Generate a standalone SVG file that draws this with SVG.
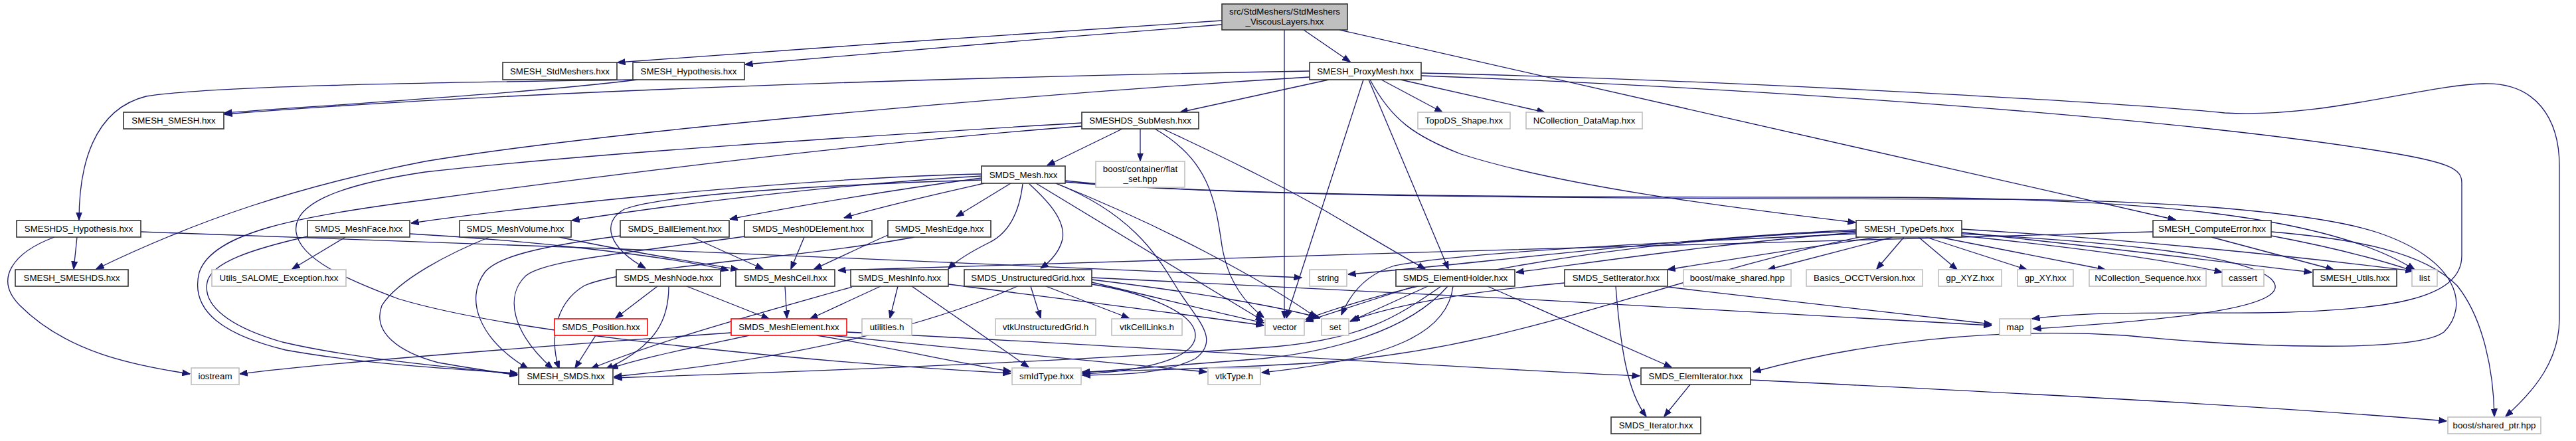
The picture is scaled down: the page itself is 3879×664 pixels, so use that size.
<svg xmlns="http://www.w3.org/2000/svg" width="3879" height="664" viewBox="0 0 3879 664">
<defs>
<style>
.e path{fill:none;stroke:#191970;stroke-width:1.3;marker-end:url(#a)}
.node rect{fill:#fff;stroke:#333;stroke-width:1.6}
.node.g rect{stroke:#bfbfbf}
.node.r rect{stroke:#ff0000}
.node.m rect{fill:#bfbfbf}
.node text{font-family:"Liberation Sans",Arial,sans-serif;font-size:13.3px;fill:#000;text-anchor:middle}
</style>
<marker id="a" markerUnits="userSpaceOnUse" markerWidth="12" markerHeight="10" viewBox="0 0 12 10" refX="11.5" refY="5" orient="auto"><path d="M0,0.5 L12,5 L0,9.5 z" fill="#191970" stroke="#191970" stroke-width="1"/></marker>
</defs>
<rect width="3879" height="664" fill="#fff"/>
<g class="e" id="edges">
<path d="M1840,31 C1600,45 1200,75 930,94"/>
<path d="M1840,37 C1600,55 1350,78 1122,97"/>
<path d="M1963,45 L2033,93"/>
<path d="M1934,45 L1934,479"/>
<path d="M2017,45 L3276,331"/>
<path d="M953,120 C700,124 330,128 220,145 C140,165 119,250 119,331"/>
<path d="M960,120 C800,140 500,158 338,170"/>
<path d="M1972,107 C1500,115 800,135 338,172"/>
<path d="M2001,120 L1777,169"/>
<path d="M2063,120 C2095,180 2130,205 2200,232 C2350,280 2600,312 2794,335"/>
<path d="M2080,120 L2172,169"/>
<path d="M2109,120 L2326,169"/>
<path d="M2061,120 L2181,405"/>
<path d="M2053,120 L1937,479"/>
<path d="M2140,110 C2600,120 3200,155 3350,170 C3500,178 3650,128 3740,126 C3820,124 3854,180 3854,250 L3854,480 C3854,540 3820,585 3773,627"/>
<path d="M2140,114 C2700,135 3300,180 3600,230 C3690,245 3707,255 3707,275 L3707,385 C3707,450 3600,468 3400,471 C3250,472 3150,468 3060,480"/>
<path d="M1972,116 C1500,145 900,200 640,243 C450,280 300,330 145,405"/>
<path d="M1690,194 L1577,249"/>
<path d="M1717,194 L1717,242"/>
<path d="M1739,194 C1820,240 1830,300 1840,370 C1850,430 1880,460 1903,478"/>
<path d="M1751,194 C1850,240 1950,290 2000,320 C2060,355 2110,385 2146,405"/>
<path d="M1629,190 C1300,215 900,265 640,301 C450,325 320,350 300,410 C285,470 340,505 430,527 C560,550 690,556 779,562"/>
<path d="M1629,185 C1300,205 900,230 640,259 C500,280 440,310 446,350 C452,390 520,420 600,450 C800,510 1300,550 1522,562"/>
<path d="M1478,262 C1200,268 800,310 619,336"/>
<path d="M1478,265 C1250,278 1000,310 861,332"/>
<path d="M1478,268 C1350,285 1200,310 1099,330"/>
<path d="M1482,276 C1420,290 1330,310 1271,328"/>
<path d="M1522,276 L1440,326"/>
<path d="M1478,271 C1250,278 1000,292 940,315 C905,335 915,372 972,404"/>
<path d="M1540,277 C1535,320 1520,350 1490,365 C1460,380 1440,392 1428,405"/>
<path d="M1550,277 C1575,300 1605,330 1600,360 C1595,380 1580,395 1567,404"/>
<path d="M1560,276 L1902,483"/>
<path d="M1590,276 C1750,340 1900,420 1982,478"/>
<path d="M1604,272 C1800,295 2300,297 2800,297 C3200,297 3500,320 3636,406"/>
<path d="M1604,274 C1900,300 2500,298 3000,300 C3350,302 3520,330 3580,350 C3700,390 3720,460 3680,500 C3640,530 3400,525 3200,505 C2950,490 2750,530 2640,560"/>
<path d="M1590,276 C1700,320 1740,380 1770,430 C1800,480 1840,510 1800,540 C1750,565 1680,564 1630,565"/>
<path d="M116,357 L111,405"/>
<path d="M82,357 C20,380 -10,420 30,460 C100,530 200,550 286,563"/>
<path d="M212,349 C700,365 1500,395 1960,418"/>
<path d="M520,357 L440,405"/>
<path d="M617,352 C800,362 1000,385 1097,407"/>
<path d="M463,356 C380,375 318,395 312,425 C305,460 345,492 425,515 C540,542 690,553 779,564"/>
<path d="M842,357 C950,380 1050,395 1112,406"/>
<path d="M737,357 C680,380 600,420 575,460 C560,500 600,530 660,546 C700,553 740,559 779,565"/>
<path d="M1042,357 L1149,405"/>
<path d="M935,355 C820,370 750,385 730,410 C700,450 720,510 795,555"/>
<path d="M1211,357 L1191,405"/>
<path d="M1122,356 C950,380 820,392 792,415 C760,445 770,500 832,555"/>
<path d="M1337,354 C1300,370 1260,390 1226,405"/>
<path d="M1377,357 C1200,390 950,400 880,430 C830,460 830,520 842,555"/>
<path d="M990,431 L927,479"/>
<path d="M1034,431 L1158,480"/>
<path d="M1007,431 C1007,480 990,520 912,556"/>
<path d="M1182,431 L1185,479"/>
<path d="M1326,431 L1220,480"/>
<path d="M1352,431 L1340,479"/>
<path d="M1373,431 L1549,553"/>
<path d="M1428,428 C1600,450 1800,475 1903,490"/>
<path d="M1283,432 C1150,470 1000,510 890,555"/>
<path d="M1552,431 L1567,479"/>
<path d="M1575,431 L1700,479"/>
<path d="M1532,431 C1400,490 1200,540 925,567"/>
<path d="M1644,428 C1720,440 1800,470 1800,505 C1800,545 1700,560 1630,563"/>
<path d="M1644,425 C1750,450 1850,475 1903,486"/>
<path d="M1644,421 C1800,440 1930,462 1988,479"/>
<path d="M1644,418 C2000,435 2700,470 2999,490"/>
<path d="M897,505 L866,554"/>
<path d="M1128,505 C1050,522 960,540 919,555"/>
<path d="M1101,501 C900,515 500,545 361,563"/>
<path d="M1230,505 C1350,525 1450,548 1522,559"/>
<path d="M1250,505 C1450,525 1700,550 1817,560"/>
<path d="M1275,500 C1700,520 2200,555 2469,566"/>
<path d="M2130,431 L1966,484"/>
<path d="M2150,431 L2033,484"/>
<path d="M2170,431 C2100,480 2050,510 1920,522 C1600,545 1200,560 925,569"/>
<path d="M2180,431 C2120,500 2000,530 1900,540 C1800,548 1700,555 1630,561"/>
<path d="M2188,431 C2180,500 2100,540 1900,561"/>
<path d="M2240,431 L2517,553"/>
<path d="M2433,431 C2440,520 2450,590 2479,627"/>
<path d="M2356,426 C2200,440 2100,460 2036,482"/>
<path d="M2511,432 C2700,455 2900,478 2999,488"/>
<path d="M2545,579 L2506,627"/>
<path d="M2636,572 C3000,590 3400,610 3684,634"/>
<path d="M2954,350 C3150,370 3350,395 3481,410"/>
<path d="M2830,357 C2700,375 2580,395 2511,406"/>
<path d="M2795,350 C2600,365 2400,395 2283,410"/>
<path d="M2795,346 C2500,360 2200,400 2030,413"/>
<path d="M2795,348 C2400,362 2100,430 1966,481"/>
<path d="M2795,352 C2500,365 2200,380 2100,400 C2050,415 2030,450 2020,474"/>
<path d="M2954,345 C3200,360 3450,385 3634,408"/>
<path d="M2954,355 C3150,375 3280,395 3346,410"/>
<path d="M2920,357 L3170,406"/>
<path d="M2900,357 L3052,406"/>
<path d="M2889,357 L2947,406"/>
<path d="M2867,357 L2826,405"/>
<path d="M2850,357 L2662,406"/>
<path d="M2954,352 C3200,365 3380,385 3420,420 C3460,460 3300,480 3062,495"/>
<path d="M2800,357 C2500,420 2300,520 2000,545 C1850,555 1700,558 1630,560"/>
<path d="M3330,357 L3514,406"/>
<path d="M3420,355 C3500,370 3580,390 3634,408"/>
<path d="M3420,349 C3550,360 3650,380 3700,430 C3740,480 3755,560 3756,627"/>
<path d="M3242,349 C2800,365 1800,385 1262,407"/>
</g>
<g id="n_main" class="node m"><rect x="1840" y="6" width="189" height="39"/><text x="1934.5" y="22">src/StdMeshers/StdMeshers</text><text x="1934.5" y="37">_ViscousLayers.hxx</text></g>
<g id="n_stdmeshers" class="node"><rect x="757" y="94" width="172" height="26"/><text x="843" y="111.5">SMESH_StdMeshers.hxx</text></g>
<g id="n_hypothesis" class="node"><rect x="953" y="94" width="168" height="26"/><text x="1037" y="111.5">SMESH_Hypothesis.hxx</text></g>
<g id="n_proxymesh" class="node"><rect x="1972" y="94" width="168" height="26"/><text x="2056" y="111.5">SMESH_ProxyMesh.hxx</text></g>
<g id="n_smesh_smesh" class="node"><rect x="186" y="169" width="151" height="25"/><text x="261.5" y="186">SMESH_SMESH.hxx</text></g>
<g id="n_submesh" class="node"><rect x="1629" y="169" width="176" height="25"/><text x="1717" y="186">SMESHDS_SubMesh.hxx</text></g>
<g id="n_topods" class="node g"><rect x="2135" y="169" width="139" height="25"/><text x="2204.5" y="186">TopoDS_Shape.hxx</text></g>
<g id="n_datamap" class="node g"><rect x="2298" y="169" width="175" height="25"/><text x="2385.5" y="186">NCollection_DataMap.hxx</text></g>
<g id="n_smds_mesh" class="node"><rect x="1478" y="250" width="126" height="26"/><text x="1541" y="267.5">SMDS_Mesh.hxx</text></g>
<g id="n_flatset" class="node g"><rect x="1650" y="243" width="134" height="39"/><text x="1717" y="259">boost/container/flat</text><text x="1717" y="274">_set.hpp</text></g>
<g id="n_smeshds_hyp" class="node"><rect x="25" y="332" width="187" height="25"/><text x="118.5" y="349">SMESHDS_Hypothesis.hxx</text></g>
<g id="n_meshface" class="node"><rect x="463" y="332" width="154" height="25"/><text x="540" y="349">SMDS_MeshFace.hxx</text></g>
<g id="n_meshvolume" class="node"><rect x="692" y="332" width="168" height="25"/><text x="776" y="349">SMDS_MeshVolume.hxx</text></g>
<g id="n_ball" class="node"><rect x="934" y="332" width="164" height="25"/><text x="1016" y="349">SMDS_BallElement.hxx</text></g>
<g id="n_mesh0d" class="node"><rect x="1121" y="332" width="192" height="25"/><text x="1217" y="349">SMDS_Mesh0DElement.hxx</text></g>
<g id="n_meshedge" class="node"><rect x="1337" y="332" width="155" height="25"/><text x="1414.5" y="349">SMDS_MeshEdge.hxx</text></g>
<g id="n_typedefs" class="node"><rect x="2795" y="332" width="159" height="25"/><text x="2874.5" y="349">SMESH_TypeDefs.hxx</text></g>
<g id="n_computeerror" class="node"><rect x="3242" y="332" width="178" height="25"/><text x="3331" y="349">SMESH_ComputeError.hxx</text></g>
<g id="n_smesh_smeshds" class="node"><rect x="23" y="406" width="170" height="25"/><text x="108" y="423">SMESH_SMESHDS.hxx</text></g>
<g id="n_utils_exc" class="node g"><rect x="319" y="406" width="202" height="25"/><text x="420" y="423">Utils_SALOME_Exception.hxx</text></g>
<g id="n_meshnode" class="node"><rect x="928" y="406" width="157" height="25"/><text x="1006.5" y="423">SMDS_MeshNode.hxx</text></g>
<g id="n_meshcell" class="node"><rect x="1108" y="406" width="149" height="25"/><text x="1182.5" y="423">SMDS_MeshCell.hxx</text></g>
<g id="n_meshinfo" class="node"><rect x="1281" y="406" width="147" height="25"/><text x="1354.5" y="423">SMDS_MeshInfo.hxx</text></g>
<g id="n_ugrid" class="node"><rect x="1452" y="406" width="192" height="25"/><text x="1548" y="423">SMDS_UnstructuredGrid.hxx</text></g>
<g id="n_string" class="node g"><rect x="1972" y="406" width="56" height="25"/><text x="2000" y="423">string</text></g>
<g id="n_elemholder" class="node"><rect x="2102" y="406" width="179" height="25"/><text x="2191.5" y="423">SMDS_ElementHolder.hxx</text></g>
<g id="n_setiterator" class="node"><rect x="2356" y="406" width="155" height="25"/><text x="2433.5" y="423">SMDS_SetIterator.hxx</text></g>
<g id="n_makeshared" class="node g"><rect x="2535" y="406" width="162" height="25"/><text x="2616" y="423">boost/make_shared.hpp</text></g>
<g id="n_occt" class="node g"><rect x="2720" y="406" width="175" height="25"/><text x="2807.5" y="423">Basics_OCCTVersion.hxx</text></g>
<g id="n_gpxyz" class="node g"><rect x="2919" y="406" width="95" height="25"/><text x="2966.5" y="423">gp_XYZ.hxx</text></g>
<g id="n_gpxy" class="node g"><rect x="3038" y="406" width="84" height="25"/><text x="3080" y="423">gp_XY.hxx</text></g>
<g id="n_ncseq" class="node g"><rect x="3146" y="406" width="176" height="25"/><text x="3234" y="423">NCollection_Sequence.hxx</text></g>
<g id="n_cassert" class="node g"><rect x="3346" y="406" width="63" height="25"/><text x="3377.5" y="423">cassert</text></g>
<g id="n_smesh_utils" class="node"><rect x="3483" y="406" width="126" height="25"/><text x="3546" y="423">SMESH_Utils.hxx</text></g>
<g id="n_list" class="node g"><rect x="3632" y="406" width="38" height="25"/><text x="3651" y="423">list</text></g>
<g id="n_position" class="node r"><rect x="835" y="480" width="140" height="25"/><text x="905" y="497">SMDS_Position.hxx</text></g>
<g id="n_meshelement" class="node r"><rect x="1101" y="480" width="174" height="25"/><text x="1188" y="497">SMDS_MeshElement.hxx</text></g>
<g id="n_utilities" class="node g"><rect x="1298" y="480" width="75" height="25"/><text x="1335.5" y="497">utilities.h</text></g>
<g id="n_vtkug" class="node g"><rect x="1499" y="480" width="151" height="25"/><text x="1574.5" y="497">vtkUnstructuredGrid.h</text></g>
<g id="n_vtkcelllinks" class="node g"><rect x="1674" y="480" width="106" height="25"/><text x="1727" y="497">vtkCellLinks.h</text></g>
<g id="n_vector" class="node g"><rect x="1905" y="480" width="59" height="25"/><text x="1934.5" y="497">vector</text></g>
<g id="n_set" class="node g"><rect x="1990" y="480" width="41" height="25"/><text x="2010.5" y="497">set</text></g>
<g id="n_map" class="node g"><rect x="3011" y="480" width="47" height="25"/><text x="3034.5" y="497">map</text></g>
<g id="n_iostream" class="node g"><rect x="288" y="554" width="72" height="25"/><text x="324" y="571">iostream</text></g>
<g id="n_smesh_smds" class="node"><rect x="781" y="554" width="142" height="25"/><text x="852" y="571">SMESH_SMDS.hxx</text></g>
<g id="n_smidtype" class="node g"><rect x="1524" y="554" width="104" height="25"/><text x="1576" y="571">smIdType.hxx</text></g>
<g id="n_vtktype" class="node g"><rect x="1819" y="554" width="79" height="25"/><text x="1858.5" y="571">vtkType.h</text></g>
<g id="n_elemiterator" class="node"><rect x="2471" y="554" width="165" height="25"/><text x="2553.5" y="571">SMDS_ElemIterator.hxx</text></g>
<g id="n_iterator" class="node"><rect x="2426" y="628" width="135" height="25"/><text x="2493.5" y="645">SMDS_Iterator.hxx</text></g>
<g id="n_sharedptr" class="node g"><rect x="3686" y="628" width="140" height="25"/><text x="3756" y="645">boost/shared_ptr.hpp</text></g>
</svg>
